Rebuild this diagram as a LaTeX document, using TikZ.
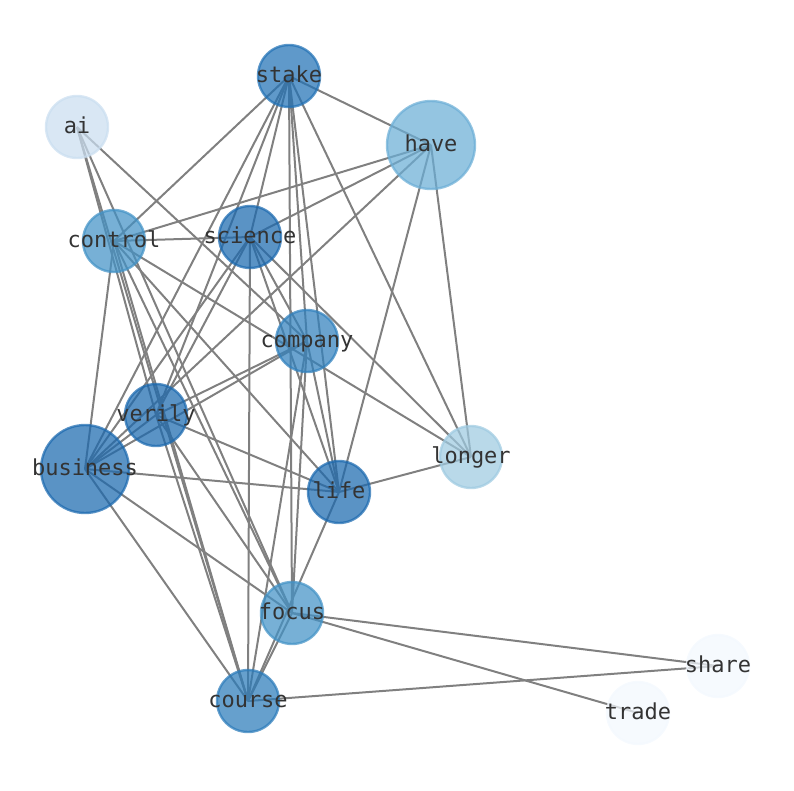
\documentclass[tikz,border=0pt]{standalone}
\usepackage{fontspec}
\newfontfamily\wordfont{DejaVu Sans Mono}
\usetikzlibrary{calc}
\definecolor{deep}{HTML}{1B69AF}
\definecolor{dark}{HTML}{2171B5}
\definecolor{midb}{HTML}{2B7BBA}
\definecolor{comp}{HTML}{3080BD}
\definecolor{soft}{HTML}{4292C6}
\definecolor{pale}{HTML}{6BAED6}
\definecolor{mist}{HTML}{9ECAE1}
\definecolor{haze}{HTML}{CADEF0}
\definecolor{snow}{HTML}{F3F8FE}
\tikzset{
  wordnode/.style={circle, inner sep=0pt, line width=2.4pt, opacity=0.72},
  wordlabel/.style={font=\wordfont\fontsize{22}{26}\selectfont, text=black!80,
    inner sep=0pt, text height=16.7pt, text depth=4.6pt},
  link/.style={draw=black!50, line width=2pt}
}
\begin{document}
\begin{tikzpicture}[x=1pt,y=-1pt]
  \useasboundingbox (0,0) rectangle (794,790);
  % word positions
  \foreach \n/\x/\y in {stake/289/76, ai/77/127, have/431/145, control/114/241,
      science/250/237, company/307/341, verily/156/415, business/85/469,
      longer/471/457, life/339/492, focus/292/613, course/248/701,
      share/718/666, trade/638/713}
    \coordinate (\n) at (\x,\y);
  % co-occurrence links
  \foreach \a/\b in {stake/have, stake/control, stake/business, stake/verily,
      stake/science, stake/focus, stake/company, stake/life, stake/longer,
      have/control, have/science, have/business, have/life, have/longer,
      ai/verily, ai/course, ai/focus, ai/company,
      control/science, control/business, control/course, control/longer,
      control/life, control/focus,
      science/verily, science/business, science/course, science/company,
      science/life, science/longer,
      company/verily, company/business, company/course, company/focus,
      company/life,
      verily/business, verily/life, verily/focus, verily/course,
      business/life, business/focus, business/course,
      life/longer, life/course,
      focus/course, focus/share, focus/trade, course/share}
    \draw[link] (\a) -- (\b);
  % circles
  \foreach \n/\c/\s in {stake/dark/62, ai/haze/62, have/pale/88, control/soft/62,
      science/deep/62, company/comp/62, verily/deep/62, business/deep/88,
      longer/mist/62, life/deep/62, focus/soft/62, course/midb/62,
      share/snow/62, trade/snow/62}
    \node[wordnode, minimum size=\s pt, draw=\c, fill=\c] (\n-dot) at (\n) {};
  % labels
  \foreach \n in {stake, ai, have, control, science, company, verily, business,
      longer, life, focus, course, share, trade}
    \node[wordlabel] (\n-txt) at (\n) {\n};
\end{tikzpicture}
\end{document}
